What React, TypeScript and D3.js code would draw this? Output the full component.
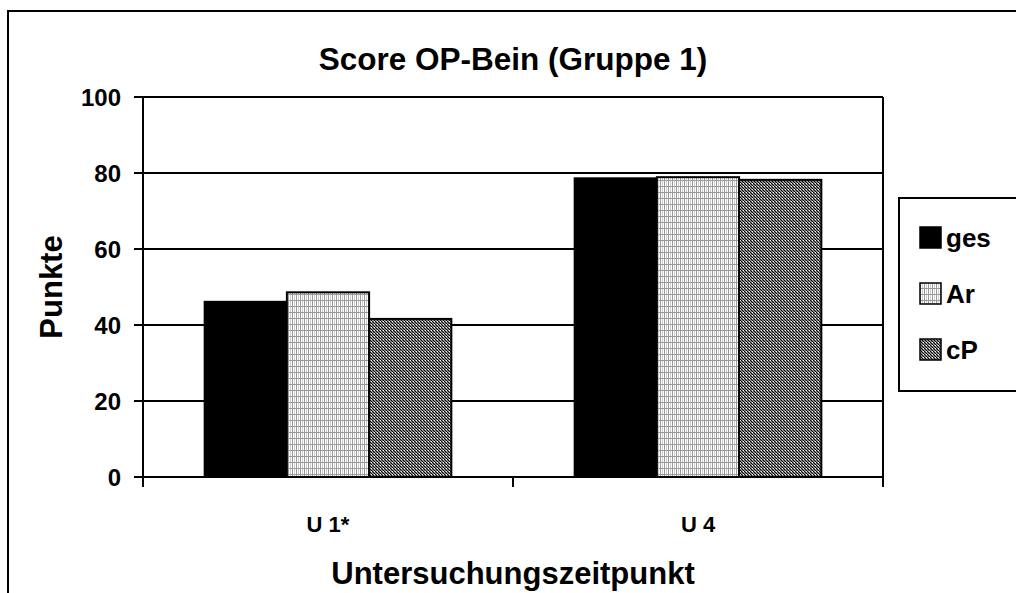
import React from "react";
import * as d3 from "d3";

const categories = ["U 1*", "U 4"];
const seriesNames = ["ges", "Ar", "cP"];
const gesValues = [46.1, 78.6];
const arValues = [48.6, 78.9];
const cpValues = [41.6, 78.2];
const yTicks = [0, 20, 40, 60, 80, 100];
const title = "Score OP-Bein (Gruppe 1)";
const yTitle = "Punkte";
const xTitle = "Untersuchungszeitpunkt";

const FONT = "Arial, 'Liberation Sans', sans-serif";

export default function App() {
  const W = 1016, H = 593;
  const left = 143, right = 883, top = 97, bottom = 477;
  const x = d3.scaleBand<string>().domain(categories).range([left, right]).paddingInner(0).paddingOuter(0);
  const y = d3.scaleLinear().domain([0, 100]).range([bottom, top]);
  const series = [gesValues, arValues, cpValues];
  const fills = ["#000", "url(#pGrid)", "url(#pDiag)"];
  const groupW = x.bandwidth();
  const barW = groupW / 4.5;
  const gap = (groupW - 3 * barW) / 2;

  return (
    <svg width={W} height={H} style={{ position: "absolute", left: 0, top: 0, background: "#fff" }} fontFamily={FONT}>
      <defs>
        <pattern id="pGrid" width="4" height="6" patternUnits="userSpaceOnUse">
          <rect width="4" height="6" fill="#fff" />
          <rect x="0" y="0" width="1" height="6" fill="#9a9a9a" />
          <rect x="2" y="0" width="1" height="6" fill="#cfcfcf" />
          <rect x="0" y="0" width="4" height="1" fill="#9a9a9a" />
        </pattern>
        <pattern id="pDiag" width="3" height="3" patternUnits="userSpaceOnUse">
          <rect width="3" height="3" fill="#8a8a8a" />
          <rect x="0" y="0" width="1" height="1" fill="#000" />
          <rect x="1" y="1" width="1" height="1" fill="#000" />
          <rect x="2" y="2" width="1" height="1" fill="#000" />
          <rect x="2" y="0" width="1" height="1" fill="#fff" />
        </pattern>
      </defs>
      {/* outer chart frame */}
      <rect x={8} y={11} width={1020} height={600} fill="none" stroke="#000" strokeWidth={2} />
      {/* title */}
      <text x={(left + right) / 2} y={70} textAnchor="middle" fontWeight="bold" fontSize={31.5}>{title}</text>
      {/* gridlines */}
      {yTicks.filter((t) => t > 0).map((t) => (
        <line key={t} x1={left} x2={right} y1={y(t)} y2={y(t)} stroke="#000" strokeWidth={2} />
      ))}
      <line x1={right} x2={right} y1={top} y2={bottom} stroke="#000" strokeWidth={2} />
      {/* bars */}
      {categories.map((c, ci) =>
        series.map((vals, si) => {
          const bx = (x(c) as number) + gap + si * barW;
          return (
            <rect key={c + si} x={bx} y={y(vals[ci])} width={barW} height={bottom - y(vals[ci])}
              fill={fills[si]} stroke="#000" strokeWidth={2} />
          );
        })
      )}
      {/* axes */}
      <line x1={left} x2={left} y1={top} y2={bottom + 10} stroke="#000" strokeWidth={2} />
      <line x1={left} x2={right} y1={bottom} y2={bottom} stroke="#000" strokeWidth={2} />
      {yTicks.map((t) => (
        <g key={t}>
          <line x1={left - 9} x2={left} y1={y(t)} y2={y(t)} stroke="#000" strokeWidth={2} />
          <text x={121} y={y(t)} dy="0.36em" textAnchor="end" fontWeight="bold" fontSize={24}>{t}</text>
        </g>
      ))}
      {[left, left + groupW, right].map((tx, i) => (
        <line key={i} x1={tx} x2={tx} y1={bottom} y2={bottom + 10} stroke="#000" strokeWidth={2} />
      ))}
      {categories.map((c) => (
        <text key={c} x={(x(c) as number) + groupW / 2} y={532} textAnchor="middle" fontWeight="bold" fontSize={22}>{c}</text>
      ))}
      <text x={(left + right) / 2} y={584} textAnchor="middle" fontWeight="bold" fontSize={31}>{xTitle}</text>
      <text transform={`translate(62,${(top + bottom) / 2}) rotate(-90)`} textAnchor="middle" fontWeight="bold" fontSize={31}>{yTitle}</text>
      {/* legend */}
      <rect x={899} y={198} width={130} height={193} fill="#fff" stroke="#000" strokeWidth={2} />
      {seriesNames.map((n, i) => {
        const cy = 237 + i * 56;
        return (
          <g key={n}>
            <rect x={920} y={cy - 10} width={21} height={21} fill={fills[i]} stroke="#000" strokeWidth={1.5} />
            <text x={946} y={cy} dy="0.38em" fontWeight="bold" fontSize={26}>{n}</text>
          </g>
        );
      })}
    </svg>
  );
}
